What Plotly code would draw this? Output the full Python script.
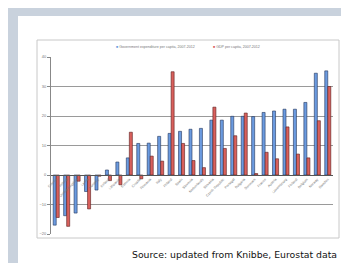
import plotly.graph_objects as go

countries = ["Greece", "Ireland", "United Kingdom", "Latvia", "Hungary", "Iceland",
             "Lithuania", "Estonia", "Croatia", "Romania", "Italy", "Poland", "Spain",
             "Slovenia", "Netherlands", "Slovakia", "Czech Republic", "Portugal",
             "Bulgaria", "Denmark", "France", "Austria", "Luxembourg", "Finland",
             "Belgium", "Norway", "Sweden"]
gov_exp = [-17.0, -13.8, -12.9, -5.6, -5.1, 1.7, 4.4, 5.8, 10.7, 10.8, 13.1, 14.1, 14.8,
           15.5, 15.8, 18.6, 18.6, 19.9, 19.9, 19.8, 21.2, 21.7, 22.3, 22.3, 24.6, 34.5, 35.3]
gdp = [-14.4, -17.4, -2.1, -11.5, -0.4, -1.9, -3.3, 14.5, -1.3, 6.4, 4.7, 35.0, 10.7,
       4.9, 2.5, 23.0, 9.0, 13.3, 21.0, 0.5, 7.7, 5.5, 16.3, 7.1, 5.8, 18.4, 30.0]
y_ticks = [-20, -10, 0, 10, 20, 30, 40]
series_names = ["Government expenditure per capita, 2007-2012", "GDP per capita, 2007-2012"]
series_colors = ["#6b9be0", "#d9605c"]
edge_colors = ["#22345a", "#5a1c1c"]

fig = go.Figure()
fig.add_trace(go.Bar(x=countries, y=gov_exp, name=series_names[0],
                     marker=dict(color=series_colors[0], line=dict(color=edge_colors[0], width=0.6))))
fig.add_trace(go.Bar(x=countries, y=gdp, name=series_names[1],
                     marker=dict(color=series_colors[1], line=dict(color=edge_colors[1], width=0.6))))

W, H = 349, 263
L, R, T, B = 43, 325, 49, 226
pw, ph = R - L, B - T
def px(x): return (x - L) / pw
def py(y): return (B - y) / ph

shapes = [
    dict(type="rect", xref="paper", yref="paper", x0=px(10), x1=px(345), y0=py(255), y1=py(8),
         fillcolor="white", line=dict(width=0), layer="below"),
    dict(type="rect", xref="paper", yref="paper", x0=px(29), x1=px(331), y0=py(230), y1=py(32),
         fillcolor="rgba(0,0,0,0)", line=dict(color="#c8c8c8", width=1), layer="below"),
]

legend_x = [106, 203]
annotations = []
for name, col, lx in zip(series_names, series_colors, legend_x):
    annotations.append(dict(xref="paper", yref="paper", x=px(lx), y=py(39), xanchor="left",
                            yanchor="middle", showarrow=False,
                            text=f"<span style='color:{col}'>■</span> {name}",
                            font=dict(size=3.6, color="#777", family="Liberation Sans")))
annotations.append(dict(xref="paper", yref="paper", x=px(331), y=py(247), xanchor="right",
                        yanchor="middle", showarrow=False,
                        text="Source: updated from Knibbe, Eurostat data",
                        font=dict(size=9.3, color="#111", family="DejaVu Sans")))

fig.update_layout(
    width=W, height=H,
    margin=dict(l=L, r=W - R, t=T, b=H - B, pad=0),
    paper_bgcolor="#c9d2dd", plot_bgcolor="white",
    barmode="group", bargap=0.42, bargroupgap=0.0,
    shapes=shapes,
    showlegend=False,
    xaxis=dict(anchor="free", position=1/3, tickangle=-45, showline=True,
               linecolor="#555", linewidth=1, ticks="", showgrid=False,
               tickfont=dict(size=3.5, color="#777", family="Liberation Sans")),
    yaxis=dict(range=[-20, 40], tickvals=y_ticks, showgrid=True, gridcolor="#9a9a9a",
               gridwidth=1, zeroline=True, zerolinecolor="#555", zerolinewidth=1,
               showline=True, linecolor="#888", linewidth=1, ticks="outside", ticklen=3,
               tickcolor="#888",
               tickfont=dict(size=4, color="#777", family="Liberation Sans")),
    annotations=annotations,
)

fig.write_html("out.html")
